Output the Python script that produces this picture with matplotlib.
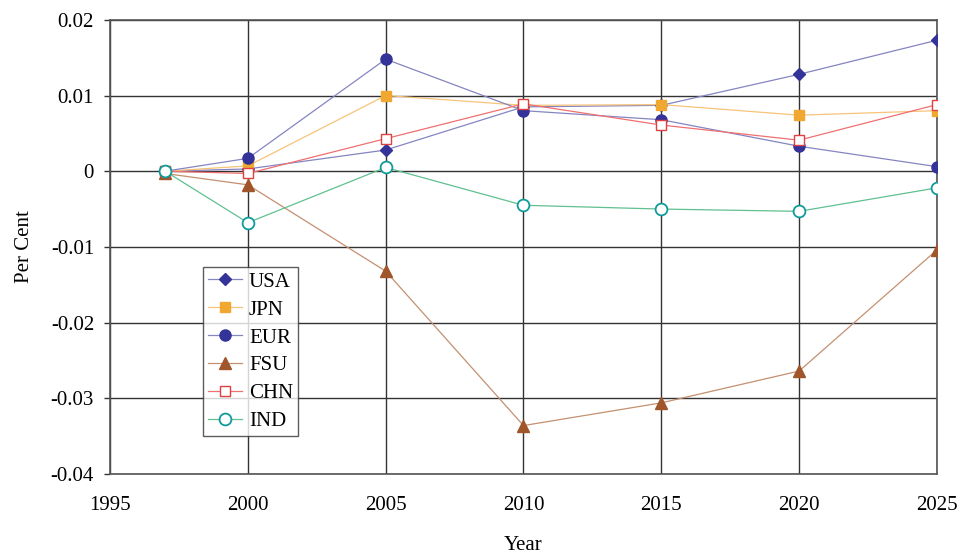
import matplotlib.pyplot as plt

years = [1997, 2000, 2005, 2010, 2015, 2020, 2025]

usa = [0.0, 0.0003, 0.0028, 0.0085, 0.0087, 0.0128, 0.0173]
jpn = [0.0, 0.0007, 0.0100, 0.0087, 0.0088, 0.0074, 0.0080]
eur = [0.0, 0.0017, 0.0148, 0.0080, 0.0068, 0.0033, 0.0006]
fsu = [-0.0003, -0.0018, -0.0132, -0.0336, -0.0306, -0.0264, -0.0104]
chn = [0.0, -0.0003, 0.0043, 0.0089, 0.0061, 0.0041, 0.0088]
ind = [0.0, -0.0068, 0.0005, -0.0045, -0.0050, -0.0053, -0.0022]

x_ticks = [1995, 2000, 2005, 2010, 2015, 2020, 2025]
y_ticks = [-0.04, -0.03, -0.02, -0.01, 0, 0.01, 0.02]
y_labels = ["-0.04", "-0.03", "-0.02", "-0.01", "0", "0.01", "0.02"]

plt.rcParams['font.family'] = ['Liberation Serif', 'DejaVu Serif']

fig = plt.figure(figsize=(9.57, 5.58), dpi=100)
ax = fig.add_axes([0.115, 0.1505, 0.864, 0.814])

ax.plot(years, usa, color='#8585c2', lw=0.9, marker='D', ms=6.5,
        mfc='#333399', mec='#333399', label='USA', zorder=3)
ax.plot(years, jpn, color='#f6c47a', lw=0.9, marker='s', ms=7.5,
        mfc='#f0a830', mec='#f0a830', label='JPN', zorder=3)
ax.plot(years, eur, color='#8585c2', lw=0.9, marker='o', ms=8,
        mfc='#333399', mec='#333399', label='EUR', zorder=3)
ax.plot(years, fsu, color='#c49070', lw=0.9, marker='^', ms=8,
        mfc='#a0552a', mec='#a0552a', label='FSU', zorder=3)
ax.plot(years, chn, color='#ef7070', lw=0.9, marker='s', ms=7.5,
        mfc='white', mec='#e04040', mew=1.0, label='CHN', zorder=4)
ax.plot(years, ind, color='#60c090', lw=0.9, marker='o', ms=8.5,
        mfc='white', mec='#109a9a', mew=1.3, label='IND', zorder=4)

ax.set_xlim(1995, 2025)
ax.set_ylim(-0.04, 0.02)
ax.set_xticks(x_ticks)
ax.set_yticks(y_ticks)
ax.set_yticklabels(y_labels)
ax.grid(True, color='#333333', lw=1.0)
ax.set_axisbelow(True)
for s in ax.spines.values():
    s.set_color('#555555')
    s.set_linewidth(1.2)
ax.tick_params(axis='x', length=0, labelsize=15, pad=16)
ax.tick_params(axis='y', direction='out', length=4.5, width=1.0,
               color='#333333', labelsize=15, pad=7)
ax.set_xlabel('Year', fontsize=15, labelpad=15)
ax.set_ylabel('Per Cent', fontsize=15, labelpad=12)

leg = ax.legend(loc='upper left', bbox_to_anchor=(0.1125, 0.456), fontsize=15,
                frameon=True, fancybox=False, edgecolor='#333333',
                handlelength=1.6, handletextpad=0.35, labelspacing=0.4,
                borderpad=0.25, borderaxespad=0)
leg.get_frame().set_linewidth(1.0)

fig.savefig('out.png', dpi=100)
